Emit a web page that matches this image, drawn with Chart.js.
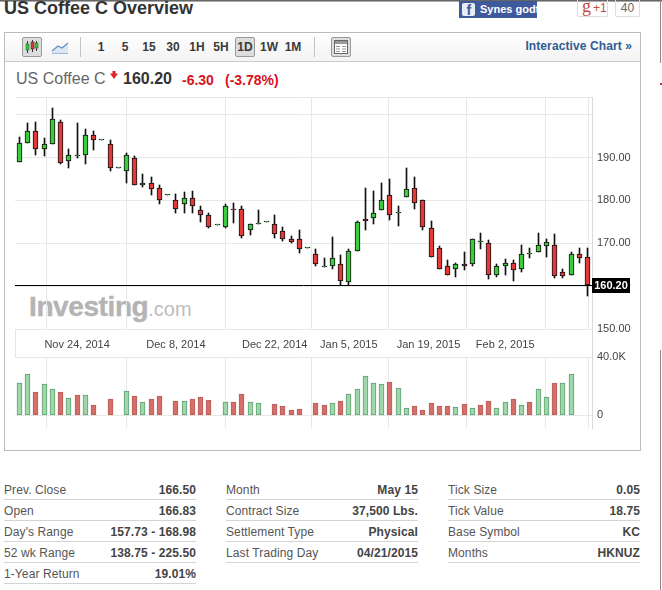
<!DOCTYPE html>
<html>
<head>
<meta charset="utf-8">
<title>US Coffee C Overview</title>
<script src="https://cdn.jsdelivr.net/npm/chart.js@4/dist/chart.umd.min.js"></script>
<style>
html, body { margin: 0; padding: 0; background: #fff; }
body { position: relative; width: 662px; height: 590px; overflow: hidden; font-family: "Liberation Sans", Arial, sans-serif; color: #333; }
.abs { position: absolute; white-space: nowrap; }
canvas { position: absolute; left: 0; }
#priceChart { top: 90px; }
#volumeChart { top: 350px; }
#box { left: 4px; top: 32px; width: 635px; height: 417px; border: 1px solid #bbb; box-sizing: content-box; }
#toolbar { left: 5px; top: 33px; width: 635px; height: 28px; background: linear-gradient(#fff, #f3f3f3); border-bottom: 1px solid #ccc; }
.sep { width: 1px; height: 20px; top: 37px; background: #c4c4c4; }
.btn { top: 37px; width: 20px; height: 20px; box-sizing: border-box; background: #ddd; border: 1px solid #999; border-radius: 2px; }
.tf { top: 40px; width: 26px; text-align: center; font: bold 12px/14px "Liberation Sans", Arial, sans-serif; color: #3a3a3a; }
.row-line { height: 1px; background: #d4d4d4; }
.lbl { font-size: 12px; line-height: 14px; color: #555; letter-spacing: .1px; }
.val { font-size: 12px; line-height: 14px; font-weight: bold; color: #444; text-align: right; letter-spacing: .1px; }
</style>
</head>
<body>
<div class="abs" style="left:0;top:0;width:662px;height:2px;background:linear-gradient(#444,#ccc)"></div>
<div class="abs" style="left:4px;top:-3px;font:bold 18px/22px 'Liberation Sans',Arial,sans-serif;color:#333">US Coffee C Overview</div>

<!-- share buttons -->
<div class="abs" style="left:459px;top:1px;width:78px;height:17px;background:#3f5a9c;overflow:hidden">
  <div class="abs" style="left:3px;top:2px;width:13px;height:13px;background:#e8ecf5;border-radius:2px;color:#3f5a9c;font:bold 14px/15px 'Liberation Sans',Arial,sans-serif;text-align:right;box-sizing:border-box">f&nbsp;</div>
  <div class="abs" style="left:21px;top:2px;font:bold 11px/13px 'Liberation Sans',Arial,sans-serif;color:#fff">Synes godt</div>
</div>
<div class="abs" style="left:577px;top:0;width:31px;height:17px;box-sizing:border-box;border:1px solid #ddd;border-top:0;border-radius:0 0 2px 2px;color:#c8463e">
  <span class="abs" style="left:4px;top:-4px;font:18px/20px 'Liberation Serif',serif">g</span>
  <span class="abs" style="left:15px;top:1px;font:12px/14px 'Liberation Sans',Arial,sans-serif">+1</span>
</div>
<div class="abs" style="left:615px;top:0;width:25px;height:17px;box-sizing:border-box;border:1px solid #ddd;border-top:0;border-radius:0 0 2px 2px;color:#666;font:12px/17px 'Liberation Sans',Arial,sans-serif;text-align:center">40</div>

<div class="abs" style="left:660px;top:0;width:1px;height:63px;background:#888"></div>
<div class="abs" style="left:660px;top:83px;width:2px;height:2px;background:#b23a3a"></div>
<div class="abs" style="left:660px;top:350px;width:1px;height:240px;background:#888"></div>

<!-- chart frame and toolbar -->
<div class="abs" id="box"></div>
<div class="abs" id="toolbar"></div>
<div class="abs btn" style="left:22px">
  <svg width="18" height="18" style="display:block">
    <path d="M4.500 3v12M9.500 2v12M13.500 3v10" stroke="#333" fill="none"/>
    <rect x="3" y="6" width="3" height="6" fill="#37c837" stroke="#2a6a2a" stroke-width=".6"/>
    <rect x="8" y="4" width="3" height="7" fill="#dc3737" stroke="#6a2a2a" stroke-width=".6"/>
    <rect x="12" y="5" width="3" height="5" fill="#37c837" stroke="#2a6a2a" stroke-width=".6"/>
  </svg>
</div>
<svg class="abs" style="left:50px;top:40px" width="20" height="15">
  <path d="M2 11 L8 6 L12 8 L18 3 V13 H2 Z" fill="#dbe6f2"/>
  <path d="M2 11 L8 6 L12 8 L18 3" fill="none" stroke="#5d8fc4" stroke-width="1.2"/>
  <path d="M2 13.500 H18" stroke="#9db9d8"/>
</svg>
<div class="abs sep" style="left:80px"></div>
<div class="abs btn" style="left:235px"></div>
<div class="abs sep" style="left:314px"></div>
<div class="abs btn" style="left:331px">
  <svg width="18" height="18" style="display:block">
    <rect x="2.500" y="2.500" width="13" height="13" fill="#fff" stroke="#666"/>
    <rect x="3" y="3" width="12" height="3" fill="#999"/>
    <path d="M4 8.500h4M4 11h4M4 13.500h4M10 8.500h4M10 11h4M10 13.500h4" stroke="#999"/>
  </svg>
</div>
<div class="abs" style="right:30px;top:39px;font:bold 12px/14px 'Liberation Sans',Arial,sans-serif;color:#2f5c94;letter-spacing:.1px">Interactive Chart »</div>

<!-- quote line -->
<div class="abs" style="left:16px;top:70px;font:16px/18px 'Liberation Sans',Arial,sans-serif;color:#666">US Coffee C</div>
<svg class="abs" style="left:110px;top:71px" width="8" height="8"><path d="M0 2.500H8L4 8Z M2.500 3V0H5.500V3Z" fill="#e0232b"/></svg>
<div class="abs" style="left:123px;top:70px;font:bold 16px/18px 'Liberation Sans',Arial,sans-serif;color:#333">160.20</div>
<div class="abs" style="left:182px;top:72px;font:bold 14px/16px 'Liberation Sans',Arial,sans-serif;color:#d8121e">-6.30</div>
<div class="abs" style="left:225px;top:72px;font:bold 14px/16px 'Liberation Sans',Arial,sans-serif;color:#d8121e">(-3.78%)</div>

<!-- faint site mark behind the candles -->
<div class="abs" style="left:29px;top:291px;font:bold 28px/32px 'Liberation Sans',Arial,sans-serif;color:#b4b4b4;letter-spacing:-.4px;-webkit-text-stroke:.4px #b4b4b4">Investing<span style="font:20px/32px 'Liberation Sans',Arial,sans-serif;letter-spacing:0;color:#bdbdbd;-webkit-text-stroke:0">.com</span></div>

<!-- axis rails running through the gap between the two panes -->
<div class="abs" style="left:15px;top:329px;width:1px;height:29px;background:#e6e6e6"></div>
<div class="abs" style="left:592px;top:329px;width:1px;height:29px;background:#d5dbe2"></div>

<canvas id="priceChart" width="662" height="270"></canvas>
<canvas id="volumeChart" width="662" height="90"></canvas>

<script>
// candles, one entry per trading slot
const opens = [188.9,193.5,196.3,191.9,193.1,198.4,189.1,190.4,190.7,195.2,194.2,193.1,187.5,186.8,190.0,183.7,184.0,183.0,181.2,180.2,
  179.1,180.5,177.7,176.5,174.2,173.9,178.1,177.9,173.0,174.4,174.9,174.6,172.8,170.9,171.1,169.0,167.6,164.4,164.8,165.1,
  160.9,168.1,175.6,175.8,177.7,181.2,177.0,180.7,182.8,180.0,173.5,169.0,164.8,163.9,165.1,165.1,170.2,170.0,162.7,164.6,
  165.3,164.1,167.4,167.9,169.3,169.5,163.2,162.7,167.6,166.83];
const highs = [194.8,198.1,198.2,194.5,201.5,198.8,191.9,198.0,196.6,196.1,194.2,194.2,187.5,191.0,190.3,186.1,185.4,183.5,181.2,181.4,
  181.9,182.3,178.8,177.0,174.2,179.1,179.5,178.8,174.6,177.7,174.9,176.5,173.9,171.8,173.0,169.0,168.6,166.5,171.4,167.2,
  168.6,175.3,182.8,182.3,184.0,184.9,178.8,187.5,185.4,180.0,175.1,169.3,166.2,165.5,167.9,171.1,172.5,170.7,165.1,166.3,
  166.2,169.7,169.0,172.5,170.9,172.1,164.1,167.9,168.8,168.98];
const lows = [188.9,193.5,190.7,190.4,193.1,188.6,187.6,190.0,188.6,191.8,194.2,186.9,187.5,184.1,183.5,183.2,181.3,179.2,181.2,177.1,
  177.1,177.1,175.0,173.6,174.2,173.6,174.8,171.3,172.0,174.4,174.9,171.3,170.6,170.0,167.8,169.0,164.8,164.4,164.1,160.2,
  160.3,168.1,173.2,174.6,177.7,175.5,174.1,180.7,178.1,173.2,166.7,163.9,162.5,162.2,163.8,164.6,168.6,161.6,162.2,162.7,
  161.3,163.2,166.5,167.9,166.7,161.8,162.0,162.5,165.3,157.73];
const closes = [193.3,196.3,191.9,193.1,199.1,188.8,190.7,190.7,195.2,194.2,194.2,187.5,187.5,190.5,183.5,184.0,182.6,180.2,181.2,178.1,
  180.5,178.6,176.5,173.9,174.2,178.6,177.7,171.8,174.4,174.6,174.9,172.1,170.9,170.2,168.6,169.0,165.1,164.8,166.5,161.1,
  168.1,174.9,175.1,177.0,180.0,176.7,177.0,182.6,179.3,173.7,166.9,163.9,162.5,165.1,164.6,170.9,170.4,162.7,164.6,165.3,
  163.7,167.6,167.6,169.5,170.4,162.3,162.3,167.4,166.5,160.20];

// contracts traded; null where the slot has no volume bar
const volumes = [22100,28300,15900,21400,17900,15900,11700,13800,13800,6900,null,11000,null,16600,13100,9000,11000,13100,null,9700,
  9700,11000,12400,10300,null,9000,9000,14500,9000,8300,null,7600,6200,3400,4100,null,8300,6900,8300,9700,
  14500,17900,26900,22100,21400,22800,18600,4800,6200,3400,8300,6200,6200,5500,7600,4800,6900,9700,4800,9000,
  11000,6900,9000,17900,12400,22100,22100,28300,null,null];
// 1 = green bar, 0 = red bar
const volumeUp = [1,1,0,1,1,0,1,0,1,0,0,0,0,1,0,1,0,0,0,0,
  1,0,0,0,0,1,0,0,1,1,0,0,0,0,0,0,0,0,1,0,
  1,1,1,1,1,0,1,1,0,0,0,0,0,1,0,1,0,0,1,1,
  0,1,0,1,1,0,1,1,0,0];

const lastClose = 160.20;

// slot positions of the vertical grid lines, with their date labels
const dateTicks = [7, 19, 31, 40, 49.68, 59, 68.8];
const dateLabels = ['Nov 24, 2014', 'Dec 8, 2014', 'Dec 22, 2014', 'Jan 5, 2015', 'Jan 19, 2015', 'Feb 2, 2015', ''];
const priceTicks = [150, 160, 170, 180, 190, 200];
const volumeTicks = [0, 40000];

const xMin = -0.547, xMax = 69.54, priceMin = 150, priceMax = 204.14, volumeMin = -8760, volumeMax = 40000;

const slots = opens.map((_, i) => i);
const gridColor = '#e8e8e8';
const tickFont = { family: '"Liberation Sans", Arial, sans-serif', size: 11 };

function isUp(i) { return closes[i] >= opens[i]; }

// keep bars and the price line on whole pixels so they stay sharp
const pixelSnap = {
  id: 'pixelSnap',
  afterDatasetsUpdate(chart) {
    chart.data.datasets.forEach((ds, d) => {
      const elements = chart.getDatasetMeta(d).data;
      if (ds.type === 'line') {
        elements.forEach(point => { point.y = Math.floor(point.y) + 0.5; });
        return;
      }
      elements.forEach(bar => {
        bar.x = Math.floor(bar.x) + 0.5;
        bar.y = Math.round(bar.y);
        bar.base = Math.round(bar.base);
        if (ds.minSize && Math.abs(bar.base - bar.y) < ds.minSize) bar.base = bar.y + ds.minSize;
      });
    });
  }
};

// black flag with the last price on the right axis
const lastPriceFlag = {
  id: 'lastPriceFlag',
  afterDraw(chart) {
    const c = chart.ctx;
    const y = Math.round(chart.scales.y.getPixelForValue(lastClose));
    c.save();
    c.fillStyle = '#000';
    c.fillRect(chart.chartArea.right, y - 7, 38, 15);
    c.fillStyle = '#fff';
    c.font = 'bold 11px "Liberation Sans", Arial, sans-serif';
    c.textAlign = 'center';
    c.textBaseline = 'middle';
    c.fillText(lastClose.toFixed(2), chart.chartArea.right + 19, y + 0.5);
    c.restore();
  }
};

// drop the room Chart.js reserves for half a tick label past the plot edges
function noLabelPadding(scale) {
  scale.paddingTop = 0;
  scale.paddingBottom = 0;
  scale.paddingLeft = 0;
  scale.paddingRight = 0;
}

function xScale(showLabels, axisHeight) {
  return {
    type: 'linear',
    min: xMin,
    max: xMax,
    offset: false,
    afterBuildTicks(scale) {
      scale.ticks = [xMin].concat(dateTicks, [xMax]).map(v => ({ value: v }));
    },
    afterFit(scale) { scale.height = axisHeight; noLabelPadding(scale); },
    grid: { color: gridColor, drawTicks: false },
    border: { display: false },
    ticks: {
      display: showLabels,
      autoSkip: false,
      maxRotation: 0,
      padding: 9,
      color: '#444',
      font: tickFont,
      callback: (v, i) => (i === 0 ? '' : dateLabels[i - 1] || '')
    }
  };
}

function yScale(min, max, values, label) {
  return {
    type: 'linear',
    position: 'right',
    min: min,
    max: max,
    afterBuildTicks(scale) { scale.ticks = values.map(v => ({ value: v })); },
    afterFit(scale) { scale.width = 70; noLabelPadding(scale); },
    grid: { color: gridColor, drawTicks: false },
    border: { display: true, color: '#d5dbe2' },
    ticks: { padding: 5, autoSkip: false, color: '#444', font: tickFont, callback: label }
  };
}

new Chart(document.getElementById('priceChart'), {
  type: 'bar',
  data: {
    datasets: [
      {
        type: 'line',
        data: [{ x: xMin, y: lastClose }, { x: xMax, y: lastClose }],
        borderColor: '#000',
        borderWidth: 1,
        pointRadius: 0,
        order: 0
      },
      {
        data: slots.map(i => ({ x: i, y: [opens[i], closes[i]] })),
        grouped: false,
        barThickness: 5,
        minSize: 1,
        minBarLength: 1,
        borderWidth: 1,
        borderSkipped: false,
        borderColor: '#111',
        backgroundColor: slots.map(i => (isUp(i) ? '#3ccb3c' : '#e03a3a')),
        order: 1
      },
      {
        data: slots.map(i => ({ x: i, y: [lows[i], highs[i]] })),
        grouped: false,
        barThickness: 1,
        backgroundColor: '#111',
        borderWidth: 0,
        order: 2
      }
    ]
  },
  options: {
    responsive: false,
    animation: false,
    layout: { padding: { left: 15, top: 7, right: 0, bottom: 0 } },
    plugins: { legend: { display: false }, tooltip: { enabled: false } },
    scales: {
      x: xScale(true, 31),
      y: yScale(priceMin, priceMax, [priceMax].concat(priceTicks), v => (v === 200 || v === priceMax ? '' : v.toFixed(2)))
    }
  },
  plugins: [pixelSnap, lastPriceFlag]
});

new Chart(document.getElementById('volumeChart'), {
  type: 'bar',
  data: {
    datasets: [{
      data: slots.map(i => ({ x: i, y: volumes[i] })),
      barThickness: 5,
      borderWidth: 1,
      borderSkipped: false,
      borderColor: slots.map(i => (volumeUp[i] ? '#5f9f72' : '#b85e59')),
      backgroundColor: slots.map(i => (volumeUp[i] ? '#9fd6aa' : '#d66e69'))
    }]
  },
  options: {
    responsive: false,
    animation: false,
    layout: { padding: { left: 15, top: 7, right: 0, bottom: 0 } },
    plugins: { legend: { display: false }, tooltip: { enabled: false } },
    scales: {
      x: xScale(false, 12),
      y: yScale(volumeMin, volumeMax, volumeTicks, v => (v === 0 ? '0' : (v / 1000).toFixed(1) + 'K'))
    }
  },
  plugins: [pixelSnap]
});

// contract details under the chart
const detailColumns = [
  { left: 4, width: 192, labels: ['Prev. Close', 'Open', "Day's Range", '52 wk Range', '1-Year Return'], values: ['166.50', '166.83', '157.73 - 168.98', '138.75 - 225.50', '19.01%'] },
  { left: 226, width: 192, labels: ['Month', 'Contract Size', 'Settlement Type', 'Last Trading Day'], values: ['May 15', '37,500 Lbs.', 'Physical', '04/21/2015'] },
  { left: 448, width: 192, labels: ['Tick Size', 'Tick Value', 'Base Symbol', 'Months'], values: ['0.05', '18.75', 'KC', 'HKNUZ'] }
];

let rowsHtml = '';
detailColumns.forEach(col => {
  col.labels.forEach((label, r) => {
    const top = 483 + r * 21;
    rowsHtml += `<div class="abs lbl" style="left:${col.left}px;top:${top}px">${label}</div>`;
    rowsHtml += `<div class="abs val" style="left:${col.left}px;width:${col.width}px;top:${top}px">${col.values[r]}</div>`;
    rowsHtml += `<div class="abs row-line" style="left:${col.left}px;width:${col.width}px;top:${499 + r * 21}px"></div>`;
  });
});
document.body.insertAdjacentHTML('beforeend', rowsHtml);

// timeframe buttons
const timeframes = ['1', '5', '15', '30', '1H', '5H', '1D', '1W', '1M'];
let tfHtml = '';
timeframes.forEach((tf, i) => {
  tfHtml += `<div class="abs tf" style="left:${88 + i * 24}px">${tf}</div>`;
});
document.body.insertAdjacentHTML('beforeend', tfHtml);
</script>
</body>
</html>
